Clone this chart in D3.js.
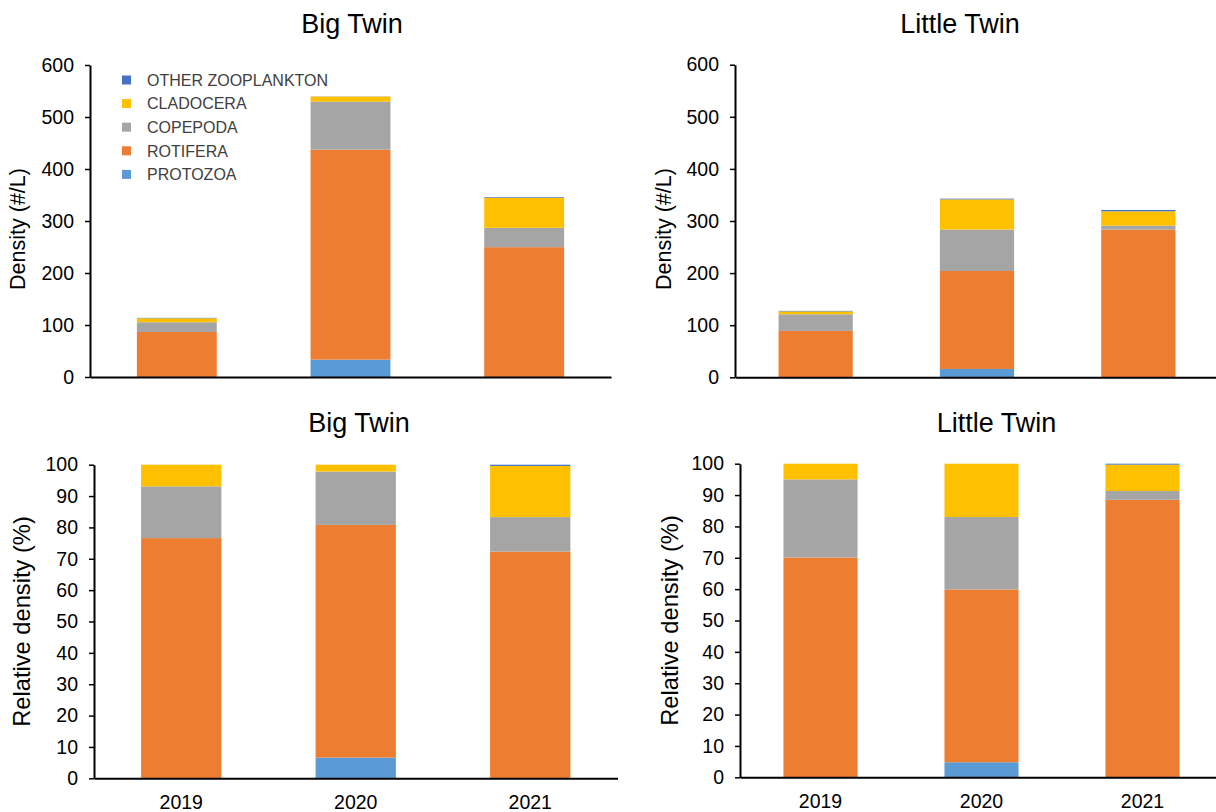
<!DOCTYPE html>
<html>
<head>
<meta charset="utf-8">
<script src="https://cdn.jsdelivr.net/npm/d3@7"></script>
<style>
  html, body { margin: 0; padding: 0; background: #fff; }
  svg { display: block; font-family: "Liberation Sans", Arial, sans-serif; }
</style>
</head>
<body>
<svg id="chart" width="1216" height="812"></svg>
<script>
// Zooplankton density by year, Big Twin and Little Twin lakes
const years = ["2019", "2020", "2021"];
const groups = ["PROTOZOA", "ROTIFERA", "COPEPODA", "CLADOCERA", "OTHER ZOOPLANKTON"];
const groupColors = ["#5B9BD5", "#ED7D31", "#A5A5A5", "#FFC000", "#4472C4"];

// Density (#/L), Big Twin
const bigProtozoa  = [0, 33.4, 0];
const bigRotifera  = [86.6, 403.7, 249.7];
const bigCopepoda  = [18.7, 92.4, 37.2];
const bigCladocera = [7.6, 9.7, 57.8];
const bigOther     = [0.8, 0.3, 1.3];

// Density (#/L), Little Twin
const littleProtozoa  = [0, 16, 0];
const littleRotifera  = [89, 188, 283.4];
const littleCopepoda  = [32, 79.5, 7.7];
const littleCladocera = [5.5, 58, 27.5];
const littleOther     = [1, 1.4, 2.6];

// Relative density (%), Big Twin
const bigPctProtozoa  = [0, 6.6, 0];
const bigPctRotifera  = [76.6, 74.2, 72.3];
const bigPctCopepoda  = [16.5, 17.0, 11.0];
const bigPctCladocera = [6.9, 2.2, 16.3];
const bigPctOther     = [0, 0, 0.4];

// Relative density (%), Little Twin
const littlePctProtozoa  = [0, 4.8, 0];
const littlePctRotifera  = [70.1, 55.1, 88.5];
const littlePctCopepoda  = [24.9, 23.1, 2.8];
const littlePctCladocera = [5.0, 17.0, 8.4];
const littlePctOther     = [0, 0, 0.3];

const densityTicks = [0, 100, 200, 300, 400, 500, 600];
const percentTicks = [0, 10, 20, 30, 40, 50, 60, 70, 80, 90, 100];

function rowsFrom(series) {
  return years.map((yr, i) => {
    const row = { year: yr };
    groups.forEach((g, k) => { row[g] = series[k][i]; });
    return row;
  });
}

const panels = [
  { title: "Big Twin", series: [bigProtozoa, bigRotifera, bigCopepoda, bigCladocera, bigOther],
    x0: 90, x1: 611, yBase: 377, yTop: 65, max: 600, ticks: densityTicks,
    yLabel: "Density (#/L)", labelX: 25, labelY: 229, labelSize: 21.5,
    titleX: 352, titleY: 33, showYears: false, legend: true },
  { title: "Little Twin", series: [littleProtozoa, littleRotifera, littleCopepoda, littleCladocera, littleOther],
    x0: 735, x1: 1219, yBase: 377.3, yTop: 64.7, max: 600, ticks: densityTicks,
    yLabel: "Density (#/L)", labelX: 671, labelY: 229, labelSize: 21.5,
    titleX: 960, titleY: 33, showYears: false, legend: false },
  { title: "Big Twin", series: [bigPctProtozoa, bigPctRotifera, bigPctCopepoda, bigPctCladocera, bigPctOther],
    x0: 94, x1: 617.5, yBase: 778.3, yTop: 464.7, max: 100, ticks: percentTicks,
    yLabel: "Relative density (%)", labelX: 30, labelY: 621.5, labelSize: 23.7,
    titleX: 359, titleY: 432, showYears: true, legend: false },
  { title: "Little Twin", series: [littlePctProtozoa, littlePctRotifera, littlePctCopepoda, littlePctCladocera, littlePctOther],
    x0: 740, x1: 1223, yBase: 777.3, yTop: 463.7, max: 100, ticks: percentTicks,
    yLabel: "Relative density (%)", labelX: 678, labelY: 620.5, labelSize: 23.7,
    titleX: 996.5, titleY: 432, showYears: true, legend: false }
];

const svg = d3.select("#chart");
const stack = d3.stack().keys(groups);

panels.forEach(p => {
  const g = svg.append("g");
  const x = d3.scaleBand().domain(years).range([p.x0, p.x1])
    .paddingInner(0.54).paddingOuter(0.27);
  const y = d3.scaleLinear().domain([0, p.max]).range([p.yBase, p.yTop]);
  const stacked = stack(rowsFrom(p.series));

  // stacked bars
  g.selectAll("g.layer").data(stacked).join("g")
    .attr("class", "layer")
    .attr("fill", (d, i) => groupColors[i])
    .selectAll("rect").data(d => d).join("rect")
    .attr("x", d => x(d.data.year))
    .attr("width", x.bandwidth())
    .attr("y", d => y(d[1]))
    .attr("height", d => Math.max(0, y(d[0]) - y(d[1])));

  // y axis
  const yAxis = g.append("g")
    .attr("transform", `translate(${p.x0},0)`)
    .call(d3.axisLeft(y).tickValues(p.ticks).tickSize(5).tickPadding(11).tickSizeOuter(0));
  yAxis.select(".domain").attr("stroke", "#000").attr("stroke-width", 2);
  yAxis.selectAll(".tick line").attr("stroke", "#000").attr("stroke-width", 1.5);
  yAxis.selectAll(".tick text").attr("fill", "#000").style("font-size", "19.5px");

  // x axis
  const xAxis = g.append("g")
    .attr("transform", `translate(0,${p.yBase})`)
    .call(d3.axisBottom(x).tickSize(0).tickPadding(17).tickSizeOuter(0)
      .tickFormat(p.showYears ? (d => d) : (() => "")));
  xAxis.select(".domain").attr("stroke", "#000").attr("stroke-width", 2);
  xAxis.selectAll(".tick text").attr("fill", "#000").style("font-size", "19.5px");

  // axis title
  g.append("text")
    .attr("transform", `translate(${p.labelX},${p.labelY}) rotate(-90)`)
    .attr("text-anchor", "middle")
    .style("font-size", p.labelSize + "px")
    .attr("fill", "#000")
    .text(p.yLabel);

  // panel title
  g.append("text")
    .attr("x", p.titleX).attr("y", p.titleY)
    .attr("text-anchor", "middle")
    .style("font-size", "27px")
    .attr("fill", "#000")
    .text(p.title);

  if (p.legend) {
    const legendOrder = groups.map((name, i) => ({ name, color: groupColors[i] })).reverse();
    const lg = g.append("g");
    const item = lg.selectAll("g").data(legendOrder).join("g")
      .attr("transform", (d, i) => `translate(122,${80 + i * 23.6})`);
    item.append("rect")
      .attr("x", 0).attr("y", -4.5).attr("width", 9).attr("height", 9)
      .attr("fill", d => d.color);
    item.append("text")
      .attr("x", 25).attr("y", 0).attr("dy", "0.36em")
      .style("font-size", "16px")
      .attr("fill", "#404040")
      .text(d => d.name);
  }
});
</script>
</body>
</html>
